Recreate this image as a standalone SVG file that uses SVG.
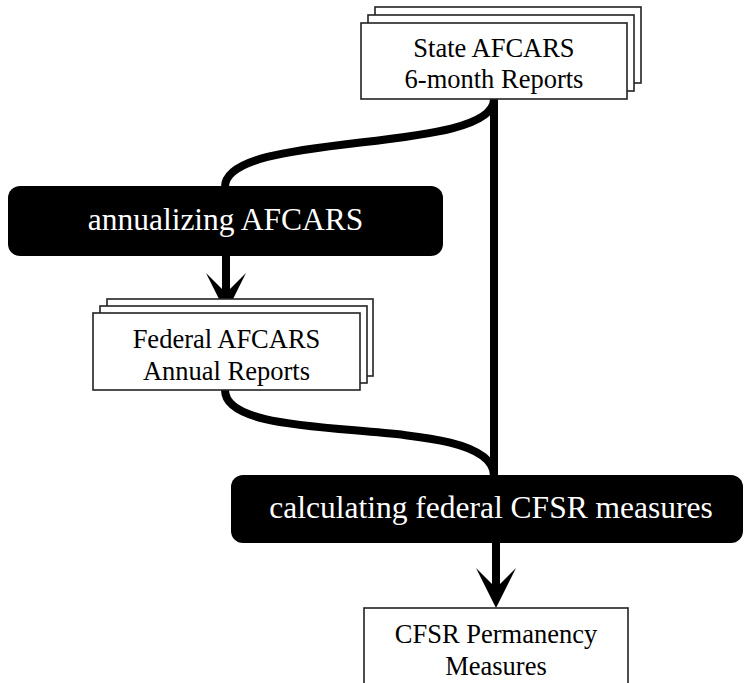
<svg xmlns="http://www.w3.org/2000/svg" width="752" height="683" viewBox="0 0 752 683">
<defs>
<style>
.doc{fill:#fff;stroke:#222;stroke-width:1.6}
.proc{fill:#000}
.t{font-family:"Liberation Serif","Times New Roman",serif;font-size:26.5px;fill:#000;text-anchor:middle}
.pt{font-family:"Liberation Serif","Times New Roman",serif;font-size:31.5px;fill:#fff;text-anchor:middle}
.wire{fill:none;stroke:#000;stroke-width:8}
</style>
<path id="vee" d="M0,0 L-20,-40 L0,-20 L20,-40 Z" fill="#000"/>
</defs>
<rect width="752" height="683" fill="#fff"/>
<g id="connectors">
<path class="wire" d="M494,99 L494,476"/>
<path class="wire" d="M494,99 C494,155 225,130 225,187"/>
<path class="wire" d="M225,390 C225,450 494,410 494,476"/>
<path class="wire" d="M226,255 L226,296"/>
<use href="#vee" transform="translate(226,313)"/>
<path class="wire" d="M496,542 L496,590"/>
<use href="#vee" transform="translate(496,608)"/>
</g>
<g id="state">
<rect class="doc" x="375" y="7" width="266" height="76"/>
<rect class="doc" x="368" y="15" width="266" height="76"/>
<rect class="doc" x="361" y="23" width="266" height="76"/>
<text class="t" x="494" y="57">State AFCARS</text>
<text class="t" x="494" y="88">6-month Reports</text>
</g>
<g id="annualizing">
<rect class="proc" x="8" y="186" width="435" height="70" rx="12"/>
<text class="pt" x="225.5" y="230">annualizing AFCARS</text>
</g>
<g id="federal">
<rect class="doc" x="107" y="299" width="266" height="77"/>
<rect class="doc" x="100" y="306" width="267" height="77"/>
<rect class="doc" x="93" y="313" width="267" height="77"/>
<text class="t" x="226.5" y="348">Federal AFCARS</text>
<text class="t" x="226.5" y="380">Annual Reports</text>
</g>
<g id="calculating">
<rect class="proc" x="231" y="475" width="512" height="68" rx="12"/>
<text class="pt" x="491" y="518">calculating federal CFSR measures</text>
</g>
<g id="cfsr">
<rect class="doc" x="364" y="608" width="264" height="90"/>
<text class="t" x="496" y="643">CFSR Permanency</text>
<text class="t" x="496" y="675">Measures</text>
</g>
</svg>
